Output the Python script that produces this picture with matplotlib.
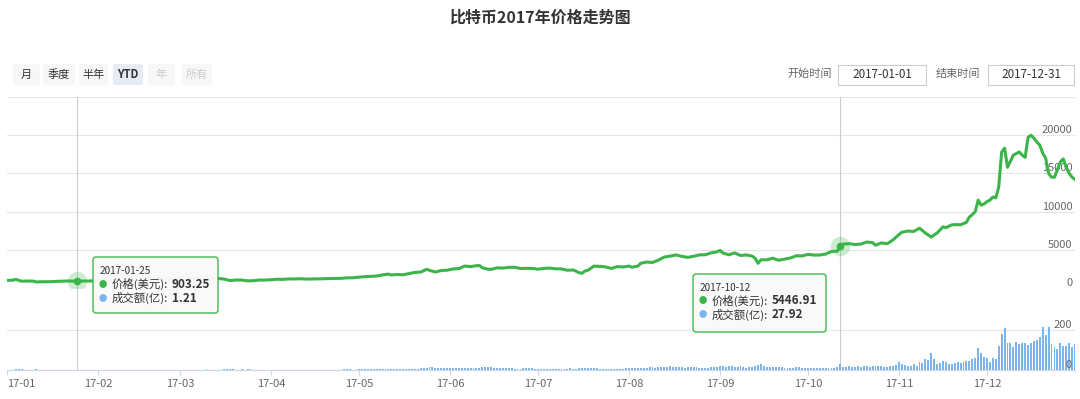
import numpy as np
import pandas as pd
import matplotlib
matplotlib.use("Agg")
from matplotlib import pyplot as plt
import matplotlib.dates as mdates
import matplotlib.transforms as mtransforms
from matplotlib.patches import FancyBboxPatch

plt.rcParams['font.family'] = ['Noto Sans CJK SC', 'DejaVu Sans']

# ---- data ----
title = "比特币2017年价格走势图"
range_buttons = ["月", "季度", "半年", "YTD", "年", "所有"]
start_label, start_value = "开始时间", "2017-01-01"
end_label, end_value = "结束时间", "2017-12-31"

price_dates = [
    "01-01", "01-03", "01-04", "01-05", "01-06", "01-08", "01-10", "01-11", "01-12", "01-14",
    "01-16", "01-18", "01-20", "01-22", "01-25", "01-27", "01-29", "01-31",
    "02-02", "02-04", "02-06", "02-08", "02-09", "02-11", "02-13", "02-15", "02-17", "02-19",
    "02-21", "02-23", "02-25", "02-28",
    "03-02", "03-03", "03-05", "03-07", "03-09", "03-10", "03-12", "03-14", "03-16", "03-18",
    "03-20", "03-22", "03-24", "03-26", "03-28", "03-30",
    "04-01", "04-03", "04-05", "04-07", "04-09", "04-11", "04-13", "04-15", "04-17", "04-19",
    "04-21", "04-23", "04-25", "04-27", "04-29",
    "05-01", "05-03", "05-05", "05-07", "05-09", "05-11", "05-12", "05-14", "05-16", "05-18",
    "05-20", "05-22", "05-24", "05-25", "05-27", "05-29", "05-31",
    "06-02", "06-04", "06-06", "06-08", "06-10", "06-11", "06-12", "06-14", "06-15", "06-17",
    "06-19", "06-21", "06-23", "06-25", "06-27", "06-29",
    "07-01", "07-03", "07-05", "07-07", "07-09", "07-11", "07-13", "07-15", "07-16", "07-17",
    "07-18", "07-20", "07-22", "07-24", "07-26", "07-28", "07-30",
    "08-01", "08-02", "08-04", "08-05", "08-07", "08-09", "08-11", "08-13", "08-15", "08-17",
    "08-19", "08-21", "08-23", "08-25", "08-27", "08-29", "08-31",
    "09-01", "09-02", "09-04", "09-06", "09-08", "09-10", "09-12", "09-13", "09-14", "09-15",
    "09-17", "09-19", "09-21", "09-23", "09-25", "09-27", "09-29",
    "10-01", "10-03", "10-05", "10-07", "10-09", "10-11", "10-12", "10-13", "10-15", "10-17",
    "10-19", "10-21", "10-23", "10-24", "10-26", "10-28", "10-30",
    "11-01", "11-02", "11-04", "11-06", "11-08", "11-10", "11-12", "11-13", "11-14", "11-16",
    "11-17", "11-19", "11-21", "11-22", "11-24", "11-25", "11-26", "11-27", "11-28", "11-29",
    "11-30",
    "12-01", "12-02", "12-03", "12-04", "12-05", "12-06", "12-07", "12-08", "12-09", "12-10",
    "12-11", "12-12", "12-13", "12-14", "12-15", "12-16", "12-17", "12-18", "12-19", "12-20",
    "12-21", "12-22", "12-23", "12-24", "12-25", "12-26", "12-27", "12-28", "12-29", "12-30",
    "12-31",
]
price_usd = [
    998, 1020, 1135, 990, 895, 910, 905, 790, 810, 820,
    830, 870, 895, 920, 903.25, 915, 915, 965,
    1005, 1030, 1020, 1050, 985, 1000, 995, 1010, 1050, 1050,
    1120, 1170, 1150, 1190,
    1250, 1285, 1270, 1230, 1190, 1110, 1220, 1240, 1170, 970,
    1040, 1040, 935, 960, 1045, 1040,
    1080, 1145, 1130, 1190, 1185, 1210, 1170, 1180, 1200, 1210,
    1240, 1250, 1265, 1330, 1340,
    1420, 1485, 1520, 1570, 1720, 1820, 1700, 1770, 1730, 1880,
    2040, 2090, 2440, 2310, 2090, 2290, 2330,
    2490, 2540, 2870, 2800, 2920, 2950, 2650, 2450, 2440, 2640,
    2610, 2700, 2710, 2550, 2580, 2560,
    2460, 2560, 2610, 2510, 2500, 2320, 2360, 2000, 1930, 2230,
    2320, 2860, 2830, 2760, 2560, 2800, 2750,
    2870, 2720, 2870, 3230, 3400, 3340, 3650, 4050, 4170, 4330,
    4140, 4010, 4150, 4340, 4350, 4600, 4740,
    4920, 4580, 4350, 4600, 4250, 4330, 4170, 3880, 3230, 3700,
    3690, 3900, 3630, 3780, 3930, 4210, 4200,
    4400, 4310, 4320, 4440, 4780, 4830, 5446.91, 5750, 5800, 5700,
    5750, 6010, 5950, 5600, 5900, 5800, 6300,
    7000, 7300, 7450, 7400, 7830, 7200, 6670, 6950, 7200, 8000,
    7900, 8270, 8300, 8270, 8600, 9300, 9600, 10000, 11500, 10850,
    11000,
    11300, 11500, 11900, 11800, 13200, 17800, 18300, 15800, 16600, 17400,
    17600, 17800, 17400, 17100, 19700, 20000, 19600, 19100, 18700, 17650,
    17000, 15000, 14500, 14500, 15500, 16500, 16900, 15800, 15000, 14500,
    14200,
]

# daily turnover, 亿
vol_jan = [2.1, 2.5, 2.3, 3.8, 4.2, 3.0, 2.4, 1.9, 1.7, 1.5, 2.6, 2.0, 1.6, 1.2, 1.1, 1.3,
           1.4, 1.2, 1.5, 1.1, 1.0, 1.2, 1.1, 1.0, 1.21, 1.1, 1.0, 1.0, 0.9, 1.0, 1.3]
vol_feb = [1.2, 1.3, 1.1, 1.2, 1.0, 1.1, 1.2, 1.5, 1.6, 1.3, 1.1, 1.0, 1.0, 1.1, 1.2, 1.3,
           1.4, 1.3, 1.1, 1.4, 1.6, 1.5, 1.7, 1.9, 1.5, 1.3, 1.4, 1.6]
vol_mar = [1.9, 2.0, 2.4, 2.1, 1.8, 1.7, 2.0, 2.3, 2.1, 3.2, 2.5, 1.9, 2.1, 2.0, 2.2, 2.6,
           3.1, 3.4, 2.8, 2.4, 2.2, 2.7, 2.4, 3.0, 2.6, 2.0, 2.3, 2.1, 1.9, 2.0, 2.2]
vol_apr = [2.0, 2.3, 2.4, 2.3, 2.2, 2.1, 2.0, 1.9, 1.7, 1.8, 1.9, 1.8, 1.9, 1.7, 1.5, 1.4,
           1.6, 1.7, 1.8, 1.9, 2.0, 1.9, 1.8, 2.1, 2.3, 2.6, 2.8, 3.0, 2.4, 2.5]
vol_may = [3.5, 3.2, 3.8, 4.5, 4.3, 3.6, 3.4, 4.6, 5.2, 5.0, 5.5, 5.1, 4.2, 3.8, 5.3, 5.8,
           6.4, 7.0, 7.5, 7.2, 6.8, 9.0, 10.5, 12.0, 14.5, 13.0, 9.5, 7.8, 8.5, 10.0, 9.2]
vol_jun = [8.5, 9.0, 8.2, 7.6, 10.5, 12.5, 11.0, 9.5, 8.8, 9.6, 10.2, 14.5, 12.8, 13.5, 14.0,
           9.0, 8.2, 8.5, 8.8, 10.2, 9.6, 8.4, 7.5, 6.8, 7.2, 9.4, 10.5, 8.5, 7.9, 7.0]
vol_jul = [6.2, 6.0, 6.5, 6.8, 7.0, 6.2, 6.5, 5.5, 5.0, 6.2, 7.5, 7.8, 6.5, 7.2, 8.5, 8.0,
           9.5, 10.5, 9.0, 12.5, 9.8, 7.5, 6.5, 6.2, 7.0, 6.8, 7.5, 7.2, 6.0, 6.4, 7.8]
vol_aug = [10.5, 9.0, 9.2, 9.8, 12.5, 11.0, 10.5, 13.5, 14.0, 12.5, 13.0, 15.5, 16.5, 17.0,
           20.5, 16.0, 17.5, 16.0, 13.0, 11.5, 14.5, 15.0, 14.0, 13.5, 12.5, 11.0, 10.5,
           12.0, 15.5, 14.0, 15.0]
vol_sep = [19.5, 20.0, 17.5, 22.0, 18.5, 16.0, 15.0, 19.0, 13.5, 12.0, 13.0, 14.0, 18.5,
           24.0, 29.0, 19.5, 14.0, 16.0, 17.5, 14.5, 16.0, 13.5, 11.0, 10.0, 11.5, 12.0,
           13.5, 14.0, 12.0, 10.5]
vol_oct = [9.5, 10.0, 9.8, 9.0, 10.2, 10.5, 9.0, 10.8, 12.0, 11.5, 14.0, 27.92, 17.0, 16.5,
           18.0, 16.5, 15.5, 18.5, 17.0, 19.0, 22.0, 17.5, 18.0, 22.5, 20.5, 19.5, 17.5,
           16.0, 19.5, 21.0, 24.0]
vol_nov = [40, 30, 25, 22, 20, 28, 22, 38, 33, 55, 50, 85, 55, 30, 35, 45, 40, 30, 28, 33,
           42, 35, 42, 45, 45, 55, 60, 110, 83, 67]
vol_dec = [58, 42, 58, 55, 122, 178, 208, 137, 133, 117, 138, 128, 137, 133, 125, 133, 145,
           150, 163, 217, 175, 217, 130, 117, 103, 133, 120, 120, 137, 117, 128]

tooltips = [
    ("2017-01-25", "903.25", "1.21"),
    ("2017-10-12", "5446.91", "27.92"),
]

price_ticks = [0, 5000, 10000, 15000, 20000, 25000]
vol_ticks = [0, 200]

# ---- colours ----
GREEN = "#3bb54a"
BLUE = "#7cb5ec"
GRID = "#e6e6e6"
AXIS = "#ccd6eb"
LABEL = "#666666"
DARK = "#333333"

W, H = 1080, 399
fig = plt.figure(figsize=(W / 100, H / 100), dpi=100)
fig.patch.set_facecolor("white")

# pixel transform, y measured from the top
px = mtransforms.Affine2D().scale(1 / W, -1 / H).translate(0, 1) + fig.transFigure

left, right = 7, 1075
ax_p = fig.add_axes([left / W, 1 - 288 / H, (right - left) / W, (288 - 97) / H])
ax_v = fig.add_axes([left / W, 1 - 370 / H, (right - left) / W, (370 - 288) / H], sharex=ax_p)

p_dates = pd.to_datetime(["2017-" + d for d in price_dates])
vol = vol_jan + vol_feb + vol_mar + vol_apr + vol_may + vol_jun + vol_jul + vol_aug + \
    vol_sep + vol_oct + vol_nov + vol_dec
v_dates = pd.date_range("2017-01-01", periods=len(vol), freq="D")

# price line
ax_p.plot(p_dates, price_usd, color=GREEN, lw=2.2, zorder=3, solid_joinstyle="round")
ax_p.set_ylim(0, 25000)
ax_p.set_yticks(price_ticks)
ax_p.set_yticklabels([str(t) for t in price_ticks[:-1]] + [""])

# volume bars
ax_v.bar(v_dates, vol, width=0.65, color=BLUE, zorder=2)
ax_v.set_ylim(0, 410)
ax_v.set_yticks(vol_ticks)
ax_v.set_yticklabels([str(t) for t in vol_ticks])

ax_p.set_xlim(pd.Timestamp("2017-01-01"), pd.Timestamp("2017-12-31"))

for ax in (ax_p, ax_v):
    ax.set_facecolor("none")
    for s in ax.spines.values():
        s.set_visible(False)
    ax.grid(axis="y", color=GRID, lw=0.8)
    ax.set_axisbelow(True)
    ax.yaxis.tick_right()
    ax.tick_params(axis="y", length=0, pad=-2, labelsize=8, labelcolor=LABEL)
    for lbl in ax.get_yticklabels():
        lbl.set_horizontalalignment("right")
        lbl.set_verticalalignment("bottom")

ax_p.tick_params(axis="x", bottom=False, labelbottom=False)
ax_v.spines["bottom"].set_visible(True)
ax_v.spines["bottom"].set_color(AXIS)
ax_v.xaxis.set_major_locator(mdates.MonthLocator())
ax_v.xaxis.set_major_formatter(mdates.DateFormatter("%y-%m"))
ax_v.tick_params(axis="x", length=3.5, color=AXIS, labelsize=8, labelcolor=LABEL, pad=3)
for i, lbl in enumerate(ax_v.get_xticklabels()):
    lbl.set_horizontalalignment("left" if i == 0 else "center")

# volume "0" label drawn over the bars
ax_v.text(1.0, 0, "0 ", transform=ax_v.get_yaxis_transform(), ha="right", va="bottom",
          fontsize=8, color=LABEL, zorder=6)
ax_v.get_yticklabels()[0].set_visible(False)

# crosshairs and hover markers
for date_s, price_s, vol_s in tooltips:
    d = pd.Timestamp(date_s)
    for ax in (ax_p, ax_v):
        ax.axvline(d, color="#cccccc", lw=0.8, zorder=1)
    ax_p.plot([d], [float(price_s)], "o", ms=14, color=GREEN, alpha=0.25, mec="none", zorder=4)
    ax_p.plot([d], [float(price_s)], "o", ms=5.5, color=GREEN, mec="none", zorder=5)

# tooltip boxes
tip_boxes = [(93, 257, 125, 56), (693, 274, 133, 58)]
for (date_s, price_s, vol_s), (bx, by, bw, bh) in zip(tooltips, tip_boxes):
    box = FancyBboxPatch((bx, by), bw, bh, boxstyle="round,pad=0,rounding_size=3",
                         transform=px, facecolor="#f9f9f9", edgecolor=GREEN, lw=1.0,
                         alpha=0.97, zorder=10)
    fig.add_artist(box)
    fig.text(bx + 7, by + 14, date_s, transform=px, fontsize=7.2, color=DARK,
             va="center", zorder=11)
    fig.text(bx + 10, by + 27, "●", transform=px, fontsize=6, color=GREEN,
             va="center", ha="center", zorder=11)
    fig.text(bx + 19, by + 27, "价格(美元):", transform=px, fontsize=8.2, color=DARK,
             va="center", zorder=11)
    fig.text(bx + 79, by + 27, price_s, transform=px, fontsize=8.4, color=DARK,
             va="center", fontweight="bold", zorder=11)
    fig.text(bx + 10, by + 41, "●", transform=px, fontsize=6, color=BLUE,
             va="center", ha="center", zorder=11)
    fig.text(bx + 19, by + 41, "成交额(亿):", transform=px, fontsize=8.2, color=DARK,
             va="center", zorder=11)
    fig.text(bx + 79, by + 41, vol_s, transform=px, fontsize=8.4, color=DARK,
             va="center", fontweight="bold", zorder=11)

# title
fig.text(540, 18, title, transform=px, ha="center", va="center", fontsize=11.5,
         fontweight="bold", color=DARK)

# range selector buttons
btn_x = [(13, 40), (43, 75), (79, 108), (113, 143), (148, 175), (182, 212)]
for name, (x0, x1) in zip(range_buttons, btn_x):
    selected = name == "YTD"
    disabled = name in ("年", "所有")
    fc = "#e6ebf5" if selected else "#f7f7f7"
    rect = FancyBboxPatch((x0, 64), x1 - x0, 21, boxstyle="round,pad=0,rounding_size=2",
                          transform=px, facecolor=fc, edgecolor="none", zorder=2)
    fig.add_artist(rect)
    fig.text((x0 + x1) / 2, 75, name, transform=px, ha="center", va="center",
             fontsize=8, color="#cccccc" if disabled else DARK,
             fontweight="bold" if selected else "normal", zorder=3)

# date inputs
for lab, val, lx, (x0, x1) in [(start_label, start_value, 787, (838, 926)),
                               (end_label, end_value, 936, (988, 1074))]:
    fig.text(lx, 74, lab, transform=px, ha="left", va="center", fontsize=8, color=LABEL)
    rect = FancyBboxPatch((x0, 65), x1 - x0, 20, boxstyle="square,pad=0",
                          transform=px, facecolor="white", edgecolor="#cccccc", lw=0.8)
    fig.add_artist(rect)
    fig.text((x0 + x1) / 2, 75, val, transform=px, ha="center", va="center",
             fontsize=8.4, color=DARK)

plt.savefig("out.png", dpi=100)
